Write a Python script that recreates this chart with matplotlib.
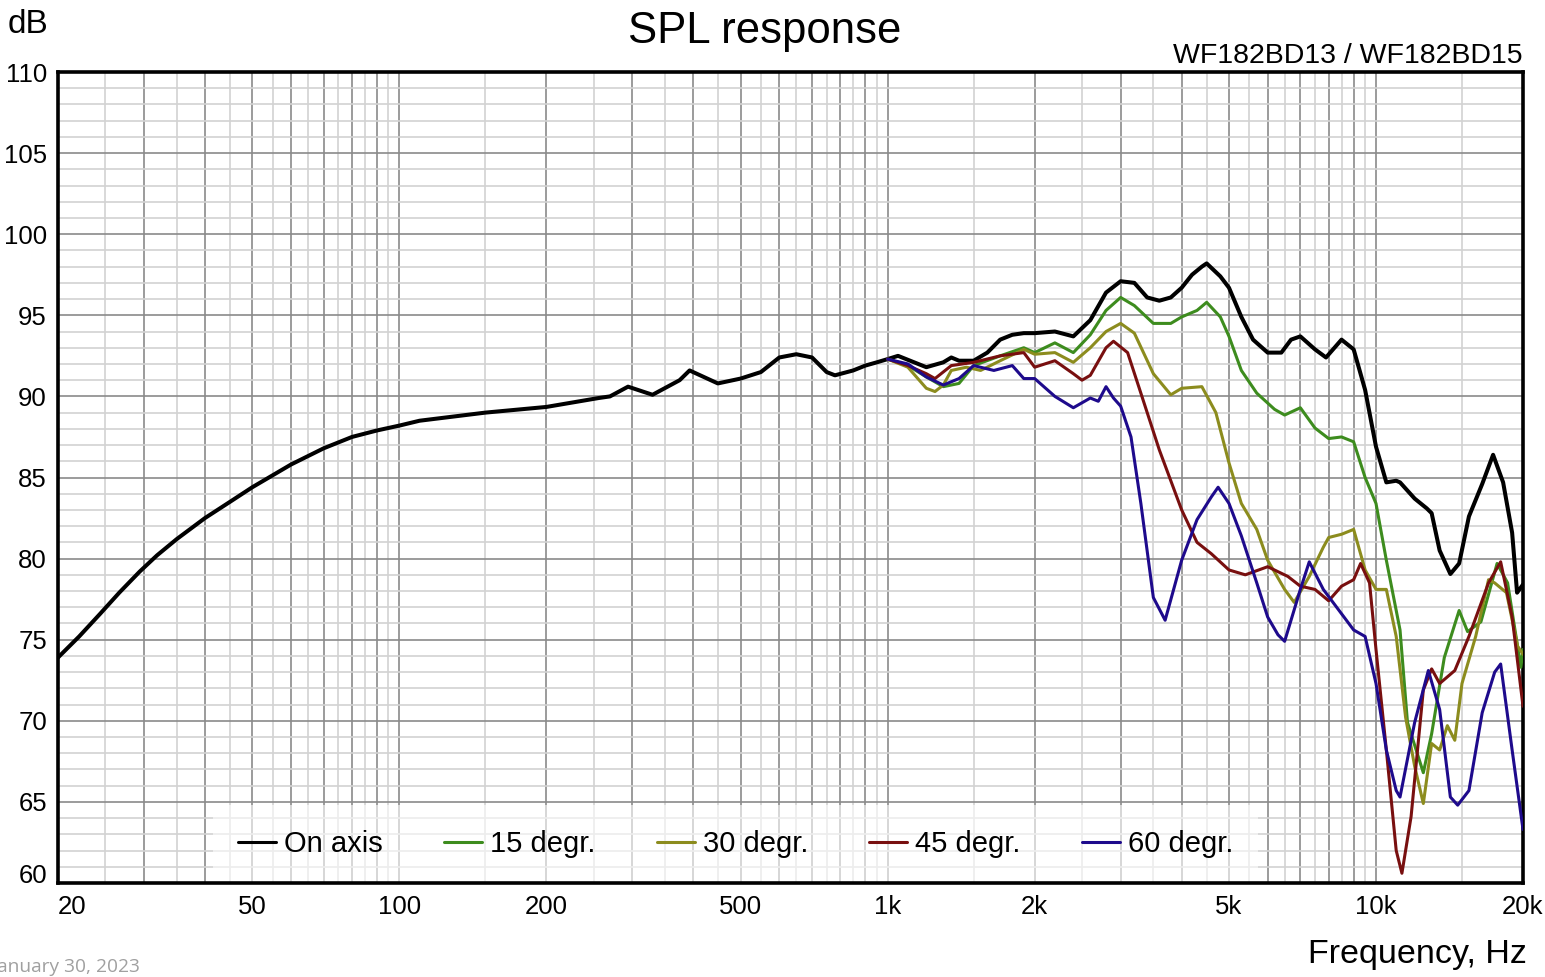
import matplotlib
matplotlib.use('Agg')
import matplotlib.pyplot as plt
import numpy as np

plt.rcParams['font.family'] = ['Liberation Sans', 'DejaVu Sans']

# ------------------------------------------------------------------------------
# Data (Hz, dB)
on_axis_f = [20, 22.1, 24.4, 26.7, 29.4, 31.9, 35, 40, 45, 50, 60, 70, 80, 90, 100,
             110, 150, 200, 256, 270, 294, 330, 375, 393, 449, 500, 550, 600, 650,
             700, 750, 780, 850, 900, 950, 1000, 1050, 1200, 1300, 1350, 1400, 1500,
             1600, 1700, 1800, 1900, 2000, 2200, 2400, 2600, 2800, 3000, 3200, 3400,
             3600, 3800, 4000, 4200, 4400, 4500, 4800, 5000, 5300, 5600, 6000, 6400,
             6700, 7000, 7500, 7900, 8500, 9000, 9500, 10000, 10500, 11000, 11200,
             12000, 12700, 13000, 13500, 14200, 14800, 15500, 16500, 17370, 18210,
             19000, 19450, 20000]
on_axis_db = [73.9, 75.2, 76.6, 77.9, 79.2, 80.2, 81.2, 82.5, 83.5, 84.4, 85.8, 86.8,
              87.5, 87.9, 88.2, 88.5, 89.0, 89.35, 89.9, 90.0, 90.6, 90.1, 91.0, 91.6,
              90.8, 91.1, 91.5, 92.4, 92.6, 92.4, 91.5, 91.3, 91.6, 91.9, 92.1, 92.3,
              92.5, 91.8, 92.1, 92.4, 92.2, 92.2, 92.7, 93.5, 93.8, 93.9, 93.9, 94.0,
              93.7, 94.7, 96.4, 97.1, 97.0, 96.1, 95.9, 96.1, 96.7, 97.5, 98.0, 98.2,
              97.4, 96.7, 94.9, 93.5, 92.7, 92.7, 93.5, 93.7, 92.9, 92.4, 93.5, 92.9,
              90.4, 86.9, 84.7, 84.8, 84.7, 83.7, 83.1, 82.8, 80.5, 79.05, 79.7, 82.6,
              84.6, 86.4, 84.7, 81.6, 77.9, 78.4]

deg15_f = [1000, 1100, 1200, 1300, 1400, 1500, 1700, 1900, 2000, 2200, 2400, 2600,
           2800, 3000, 3200, 3500, 3800, 4000, 4300, 4500, 4800, 5000, 5300, 5700,
           6200, 6500, 7000, 7500, 8000, 8500, 9000, 9500, 10000, 10500, 11200, 11600,
           12500, 13000, 13800, 14800, 15400, 16400, 17700, 18600, 19800, 20000]
deg15_db = [92.3, 91.9, 91.2, 90.6, 90.8, 91.9, 92.5, 93.0, 92.7, 93.3, 92.7, 93.8,
            95.3, 96.1, 95.6, 94.5, 94.5, 94.9, 95.3, 95.8, 94.9, 93.7, 91.6, 90.2,
            89.2, 88.85, 89.3, 88.05, 87.4, 87.5, 87.2, 85.0, 83.4, 79.9, 75.6, 69.9,
            66.8, 69.2, 73.9, 76.8, 75.5, 76.1, 79.7, 78.5, 73.3, 74.4]

deg30_f = [1000, 1100, 1200, 1250, 1300, 1350, 1450, 1550, 1700, 1900, 2000, 2200,
           2400, 2600, 2800, 3000, 3200, 3500, 3800, 4000, 4400, 4700, 5000, 5300,
           5700, 6000, 6500, 6800, 7300, 7800, 8000, 8500, 9000, 9500, 10000, 10500,
           11000, 11500, 12000, 12500, 13000, 13500, 14000, 14500, 15000, 16000,
           17000, 17500, 18500, 19500, 20000]
deg30_db = [92.3, 91.8, 90.5, 90.3, 90.7, 91.6, 91.8, 91.6, 92.2, 92.9, 92.6, 92.7,
            92.1, 93.0, 94.0, 94.5, 93.9, 91.4, 90.1, 90.5, 90.6, 89.0, 85.9, 83.4,
            81.8, 79.9, 78.1, 77.3, 78.9, 80.7, 81.3, 81.5, 81.8, 79.3, 78.1, 78.1,
            75.2, 70.2, 67.2, 64.9, 68.6, 68.2, 69.7, 68.8, 72.3, 75.2, 78.7, 78.5,
            77.9, 74.6, 74.1]

deg45_f = [1000, 1100, 1200, 1250, 1350, 1500, 1700, 1900, 2000, 2200, 2400, 2500,
           2600, 2800, 2900, 3100, 3300, 3600, 4000, 4300, 4600, 5000, 5400, 6000,
           6600, 7000, 7500, 8000, 8500, 9000, 9300, 9700, 10000, 10500, 11000,
           11300, 11800, 12500, 13000, 13500, 14500, 15500, 17000, 18000, 19000,
           20000]
deg45_db = [92.3, 91.9, 91.4, 91.1, 91.9, 92.1, 92.5, 92.7, 91.8, 92.2, 91.4, 91.0,
            91.3, 93.0, 93.4, 92.7, 90.2, 86.7, 83.0, 81.0, 80.3, 79.3, 79.0, 79.5,
            78.9, 78.3, 78.1, 77.4, 78.3, 78.7, 79.7, 78.5, 74.4, 68.2, 62.0, 60.6,
            64.1, 71.9, 73.2, 72.3, 73.1, 75.2, 78.5, 79.8, 76.4, 70.9]

deg60_f = [1000, 1100, 1200, 1300, 1400, 1500, 1650, 1800, 1900, 2000, 2200, 2400,
           2600, 2700, 2800, 2900, 3000, 3150, 3300, 3500, 3700, 4000, 4300, 4600,
           4750, 5000, 5300, 5700, 6000, 6300, 6500, 7000, 7300, 7800, 8500, 9000,
           9500, 10000, 10500, 11000, 11200, 12000, 12800, 13500, 14200, 14700,
           15500, 16500, 17500, 18000, 19000, 20000]
deg60_db = [92.3, 92.0, 91.2, 90.7, 91.1, 91.9, 91.6, 91.9, 91.1, 91.1, 90.0, 89.3,
            89.9, 89.7, 90.6, 89.9, 89.4, 87.5, 83.4, 77.6, 76.2, 79.9, 82.4, 83.8,
            84.4, 83.4, 81.4, 78.5, 76.4, 75.3, 74.9, 78.1, 79.8, 78.1, 76.6, 75.6,
            75.2, 72.3, 68.2, 65.7, 65.3, 69.9, 73.1, 70.7, 65.3, 64.8, 65.7, 70.5,
            73.0, 73.5, 68.2, 63.3]

series = [
    ('On axis', on_axis_f, on_axis_db, '#000000', 2.9),
    ('15 degr.', deg15_f, deg15_db, '#3d8c1e', 2.2),
    ('30 degr.', deg30_f, deg30_db, '#8c8c1e', 2.2),
    ('45 degr.', deg45_f, deg45_db, '#780f0f', 2.2),
    ('60 degr.', deg60_f, deg60_db, '#1e0a8c', 2.2),
]

# grid positions
major_x = [m * 10 ** e for e in (1, 2, 3) for m in range(1, 10) if m * 10 ** e >= 20] + [10000, 20000]
minor_x = [m * 10 ** e + 5 * 10 ** (e - 1) for e in (1, 2, 3) for m in range(1, 10) if m * 10 ** e >= 20] + [15000]
x_labels = {20: '20', 50: '50', 100: '100', 200: '200', 500: '500', 1000: '1k',
            2000: '2k', 5000: '5k', 10000: '10k', 20000: '20k'}

# ------------------------------------------------------------------------------
W, H = 1545, 977
fig = plt.figure(figsize=(W / 100, H / 100), dpi=100)
ax = fig.add_axes([58 / W, 1 - 883 / H, (1523 - 58) / W, (883 - 72) / H])

ax.set_xscale('log')
ax.set_xlim(20, 20000)
ax.set_ylim(60, 110)

ax.set_xticks(major_x)
ax.set_xticklabels([x_labels.get(v, '') for v in major_x])
ax.set_xticks(minor_x, minor=True)
ax.set_yticks(np.arange(60, 111, 5))
ax.set_yticks(np.arange(60, 111, 1), minor=True)
ax.tick_params(which='both', length=0)
ax.tick_params(axis='x', labelsize=18.5, pad=9)
ax.tick_params(axis='y', labelsize=18.5, pad=8)
ax.xaxis.set_minor_formatter(matplotlib.ticker.NullFormatter())

ax.grid(which='major', color='#8a8a8a', lw=1.2)
ax.grid(which='minor', color='#d2d2d2', lw=1.2)
ax.set_axisbelow(True)

for s in ax.spines.values():
    s.set_linewidth(2.6)

# first x label and bottom y label shifted like in the reference
xl = ax.get_xticklabels()
xl[0].set_horizontalalignment('left')
ax.get_yticklabels()[0].set_verticalalignment('baseline')

for name, f, db, col, lw in series:
    ax.plot(f, db, color=col, lw=lw, label=name, solid_capstyle='round', zorder=3)

leg = ax.legend(loc='lower left', bbox_to_anchor=((213 - 58) / 1465, 0.0), ncol=5,
                fontsize=21, frameon=True, fancybox=False, framealpha=0.6,
                edgecolor='none', facecolor='white', handlelength=1.3,
                handletextpad=0.28, columnspacing=2.1, borderpad=0.85,
                borderaxespad=0)
for h in leg.get_lines():
    h.set_linewidth(2.2)
leg.set_zorder(2)

fig.text(8 / W, 1 - 33 / H, 'dB', fontsize=24, va='baseline', ha='left')
fig.text(765 / W, 1 - 43 / H, 'SPL response', fontsize=31.5, va='baseline', ha='center')
fig.text(1523 / W, 1 - 63 / H, 'WF182BD13 / WF182BD15', fontsize=20.5, va='baseline', ha='right')
fig.text(1527 / W, 1 - 963 / H, 'Frequency, Hz', fontsize=24.5, va='baseline', ha='right')
fig.text(-7 / W, 1 - 972 / H, 'January 30, 2023', fontsize=13.8, va='baseline', ha='left',
         color='#a0a0a0', family=['Open Sans', 'DejaVu Sans'])

fig.savefig('out.png', dpi=100)
